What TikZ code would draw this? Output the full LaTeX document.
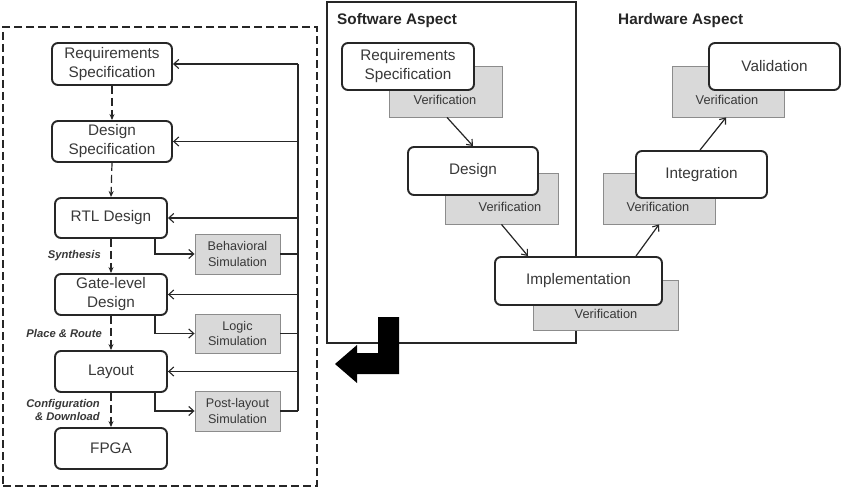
\documentclass[tikz,border=0pt]{standalone}
\usepackage{fontspec}
\setmainfont{Liberation Sans}
\usetikzlibrary{arrows.meta}
\definecolor{txt}{HTML}{383838}
\definecolor{gfill}{HTML}{D9D9D9}
\definecolor{gline}{HTML}{8C8C8C}
\definecolor{ln}{HTML}{262626}
\tikzset{
  x=1pt,y=-1pt,
  rbox/.style={draw=ln,line width=1.9pt,rounded corners=6pt,fill=white,inner sep=0pt,align=center,text=txt,font=\fontsize{15.3}{19}\selectfont},
  gbox/.style={draw=gline,line width=0.9pt,fill=gfill,inner sep=0pt,align=center,text=txt,font=\fontsize{12.6}{15.5}\selectfont},
  vtxt/.style={text=txt,inner sep=0pt,font=\fontsize{12.8}{15}\selectfont},
  stxt/.style={text=txt,inner sep=0pt,align=right,font=\fontsize{11.2}{13}\selectfont\bfseries\itshape},
  ttl/.style={text=ln,inner sep=0pt,anchor=west,font=\fontsize{15.3}{18}\selectfont\bfseries},
  fb/.style={draw=ln,line width=1.2pt,-{Straight Barb[length=5pt,width=9pt,line width=1.1pt]}},
  ln1/.style={draw=ln,line width=1.2pt},
  darr/.style={draw=ln,line width=1.2pt,dash pattern=on 8pt off 4pt,-{Stealth[length=6pt,width=5pt]}},
  sarr/.style={draw=ln,line width=1.2pt,-{Straight Barb[length=5pt,width=9pt,line width=1.1pt]}},
  rarr/.style={draw=ln,line width=1.2pt,-{Straight Barb[length=5pt,width=8pt,line width=1.1pt]}},
}
\begin{document}
\begin{tikzpicture}
\useasboundingbox[fill=white] (0,0) rectangle (850,489);
% dashed outer box
\node[draw=ln,line width=1.3pt,dash pattern=on 8pt off 4pt,minimum width=314pt,minimum height=459pt,inner sep=0pt] (outer) at (160,256.5) {};
% left column
\node[rbox,minimum width=120pt,minimum height=42pt] (lreq) at (112,64) {Requirements\\Specification};
\node[rbox,minimum width=120pt,minimum height=41pt] (ldes) at (112,141.5) {Design\\Specification};
\node[rbox,minimum width=112pt,minimum height=40pt] (lrtl) at (111,218) {RTL Design};
\node[rbox,minimum width=112pt,minimum height=41pt] (lgate) at (111,294.5) {Gate-level\\Design};
\node[rbox,minimum width=112pt,minimum height=41pt] (llay) at (111,371.5) {Layout};
\node[rbox,minimum width=112pt,minimum height=41pt] (lfpga) at (111,448.5) {FPGA};
% simulation boxes
\node[gbox,minimum width=85pt,minimum height=40pt] (sbeh) at (237.5,254) {Behavioral\\Simulation};
\node[gbox,minimum width=85pt,minimum height=39pt] (slog) at (237.5,333.5) {Logic\\Simulation};
\node[gbox,minimum width=85pt,minimum height=40pt] (spost) at (237.5,411) {Post-layout\\Simulation};
% dashed flow
\draw[darr] (lreq.south) -- (ldes.north);
\draw[darr] (ldes.south) -- (lrtl.north);
\draw[darr] (lrtl.south) -- (lgate.north);
\draw[darr] (lgate.south) -- (llay.north);
\draw[darr] (llay.south) -- (lfpga.north);
% flow labels
\node[stxt,anchor=east] (lsyn) at (101,256) {Synthesis};
\node[stxt,anchor=east] (lpr) at (102,333) {Place \& Route};
\node[stxt,anchor=east] (lcd) at (100,409.5) {Configuration\\\& Download};
% to simulations
\draw[sarr] ([xshift=44pt]lrtl.south) |- (sbeh.west);
\draw[sarr] ([xshift=44pt]lgate.south) |- (slog.west);
\draw[sarr] ([xshift=44pt]llay.south) |- (spost.west);
% feedback bus
\coordinate (bt) at (298,64);
\coordinate (bb) at (298,411);
\draw[ln1] (bt) -- (bb);
\draw[ln1] (sbeh.east) -- (sbeh.east -| bt);
\draw[ln1] (slog.east) -- (slog.east -| bt);
\draw[ln1] (spost.east) -- (bb);
\draw[fb] (bt) -- (lreq.east);
\draw[fb] (ldes.east -| bt) -- (ldes.east);
\draw[fb] (lrtl.east -| bt) -- (lrtl.east);
\draw[fb] (lgate.east -| bt) -- (lgate.east);
\draw[fb] (llay.east -| bt) -- (llay.east);
% software aspect frame
\node[draw=ln,line width=1.1pt,minimum width=249pt,minimum height=341pt,inner sep=0pt] (swbox) at (451.5,172.5) {};
\node[ttl] (swt) at (337,21) {Software Aspect};
\node[ttl] (hwt) at (618,21) {Hardware Aspect};
% verification boxes
\node[gbox,minimum width=113pt,minimum height=51pt] (sreqv) at (445.5,91.5) {};
\node[vtxt] (sreqvt) at (445,100) {Verification};
\node[gbox,minimum width=113pt,minimum height=51pt] (sdesv) at (501.5,198.5) {};
\node[vtxt] (sdesvt) at (510,207) {Verification};
\node[gbox,minimum width=145pt,minimum height=50pt] (simpv) at (605.5,305) {};
\node[vtxt] (simpvt) at (606,314) {Verification};
\node[gbox,minimum width=112pt,minimum height=51pt] (hintv) at (659,198.5) {};
\node[vtxt] (hintvt) at (658,207) {Verification};
\node[gbox,minimum width=112pt,minimum height=51pt] (hvalv) at (728,91.5) {};
\node[vtxt] (hvalvt) at (727,100) {Verification};
% V-model boxes
\node[rbox,minimum width=132pt,minimum height=47pt] (sreq) at (408,66.5) {Requirements\\Specification};
\node[rbox,minimum width=130pt,minimum height=48pt] (sdes) at (473,171) {Design};
\node[rbox,minimum width=167pt,minimum height=48pt] (simp) at (578.5,281) {Implementation};
\node[rbox,minimum width=131pt,minimum height=47pt] (hint) at (701.5,174.5) {Integration};
\node[rbox,minimum width=131pt,minimum height=47pt] (hval) at (774.5,66.5) {Validation};
% V arrows
\draw[rarr] ([xshift=1.5pt]sreqv.south) -- (sdes.north);
\draw[rarr] (sdesv.south) -- ([xshift=-50.5pt]simp.north);
\draw[rarr] ([xshift=57.5pt]simp.north) -- (hintv.south);
\draw[rarr] ([xshift=-1.5pt]hint.north) -- ([xshift=-2pt]hvalv.south);
% big black arrow
\fill[black] (399,317) -- (378,317) -- (378,353) -- (357,353) -- (357,345) -- (335,364) -- (357,383) -- (357,374) -- (399,374) -- cycle;
\end{tikzpicture}
\end{document}
